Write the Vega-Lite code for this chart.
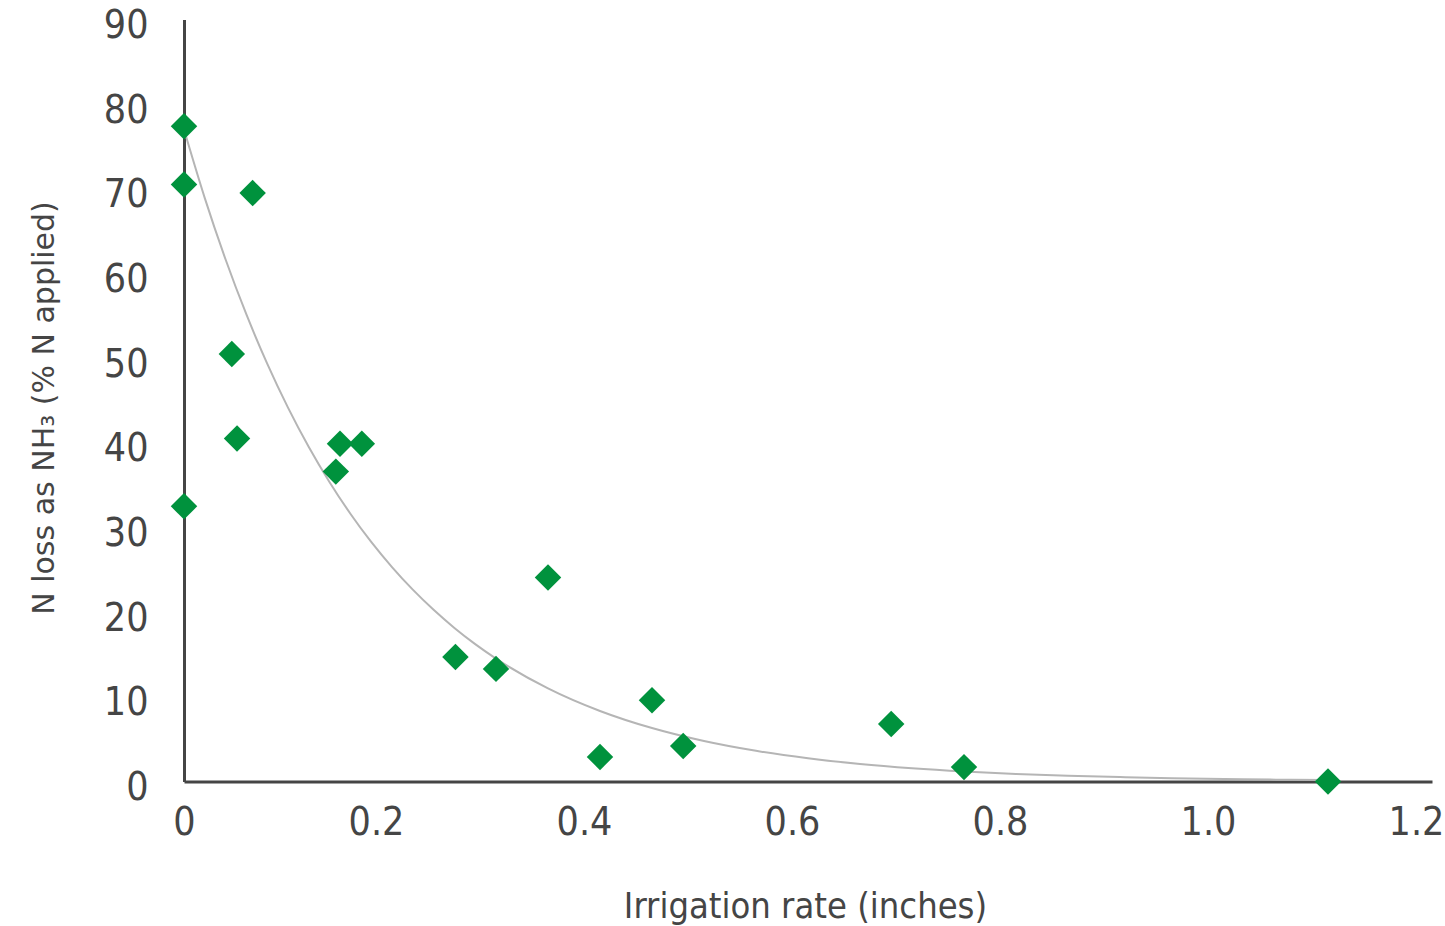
{
  "$schema": "https://vega.github.io/schema/vega-lite/v6.json",
  "autosize": {"type": "none"},
  "padding": {"left": 184, "top": 19.5, "right": 13, "bottom": 144.5},
  "width": 1248,
  "height": 762,
  "background": "white",
  "config": {
    "view": {"stroke": null},
    "axis": {
      "grid": false,
      "ticks": false,
      "tickSize": 0,
      "domainColor": "#454545",
      "domainWidth": 3,
      "labelColor": "#454545",
      "labelFont": "DejaVu Sans Condensed, Roboto, sans-serif",
      "labelFontSize": 39,
      "titleColor": "#454545",
      "titleFontWeight": "normal"
    }
  },
  "datasets": {
    "points": [
      {"irrigation": 0, "nloss": 77.4},
      {"irrigation": 0, "nloss": 70.5},
      {"irrigation": 0.066, "nloss": 69.5},
      {"irrigation": 0.046, "nloss": 50.5},
      {"irrigation": 0.051, "nloss": 40.5},
      {"irrigation": 0, "nloss": 32.5},
      {"irrigation": 0.15, "nloss": 39.9},
      {"irrigation": 0.171, "nloss": 39.9},
      {"irrigation": 0.146, "nloss": 36.6},
      {"irrigation": 0.35, "nloss": 24.1},
      {"irrigation": 0.261, "nloss": 14.7},
      {"irrigation": 0.3, "nloss": 13.3},
      {"irrigation": 0.45, "nloss": 9.6},
      {"irrigation": 0.4, "nloss": 2.9},
      {"irrigation": 0.48, "nloss": 4.2},
      {"irrigation": 0.68, "nloss": 6.8},
      {"irrigation": 0.75, "nloss": 1.7},
      {"irrigation": 1.1, "nloss": 0.0}
    ],
    "trend": [
      {"irrigation": 0, "nloss": 77.0},
      {"irrigation": 0.02, "nloss": 68.9},
      {"irrigation": 0.04, "nloss": 61.65},
      {"irrigation": 0.06, "nloss": 55.16},
      {"irrigation": 0.08, "nloss": 49.36},
      {"irrigation": 0.1, "nloss": 44.16},
      {"irrigation": 0.12, "nloss": 39.51},
      {"irrigation": 0.14, "nloss": 35.35},
      {"irrigation": 0.16, "nloss": 31.63},
      {"irrigation": 0.18, "nloss": 28.3},
      {"irrigation": 0.2, "nloss": 25.33},
      {"irrigation": 0.22, "nloss": 22.66},
      {"irrigation": 0.24, "nloss": 20.28},
      {"irrigation": 0.26, "nloss": 18.14},
      {"irrigation": 0.28, "nloss": 16.23},
      {"irrigation": 0.3, "nloss": 14.52},
      {"irrigation": 0.35, "nloss": 11.0},
      {"irrigation": 0.4, "nloss": 8.33},
      {"irrigation": 0.45, "nloss": 6.31},
      {"irrigation": 0.5, "nloss": 4.78},
      {"irrigation": 0.55, "nloss": 3.62},
      {"irrigation": 0.6, "nloss": 2.74},
      {"irrigation": 0.65, "nloss": 2.07},
      {"irrigation": 0.7, "nloss": 1.57},
      {"irrigation": 0.75, "nloss": 1.19},
      {"irrigation": 0.8, "nloss": 0.9},
      {"irrigation": 0.85, "nloss": 0.68},
      {"irrigation": 0.9, "nloss": 0.52},
      {"irrigation": 0.95, "nloss": 0.39},
      {"irrigation": 1.0, "nloss": 0.3},
      {"irrigation": 1.05, "nloss": 0.22},
      {"irrigation": 1.1, "nloss": 0.17}
    ]
  },
  "encoding": {
    "x": {
      "field": "irrigation",
      "type": "quantitative",
      "scale": {"domain": [0, 1.2], "nice": false, "zero": true},
      "axis": {
        "title": "Irrigation rate (inches)",
        "values": [0, 0.2, 0.4, 0.6, 0.8, 1.0, 1.2],
        "labelExpr": "datum.value === 0 ? '0' : format(datum.value, '.1f')",
        "labelFlush": false,
        "labelPadding": 22,
        "labelOffset": {"condition": {"test": "datum.value === 0", "value": 0}, "value": -16},
        "titleFont": "DejaVu Sans Condensed, Roboto, sans-serif",
        "titleFontSize": 36,
        "titleBaseline": "alphabetic",
        "titleY": 135.5,
        "titleX": 621,
        "titleAlign": "center"
      }
    },
    "y": {
      "field": "nloss",
      "type": "quantitative",
      "scale": {"domain": [0, 90], "nice": false},
      "axis": {
        "title": "N loss as NH₃ (% N applied)",
        "values": [0, 10, 20, 30, 40, 50, 60, 70, 80, 90],
        "labelPadding": 36,
        "labelOffset": 6,
        "titleFont": "DejaVu Sans",
        "titleFontSize": 30,
        "titleAngle": -90,
        "titleBaseline": "alphabetic",
        "titleAlign": "center",
        "titleX": -131,
        "titleY": 388
      }
    }
  },
  "layer": [
    {
      "data": {"name": "trend"},
      "mark": {"type": "line", "color": "#b5b5b5", "strokeWidth": 2, "interpolate": "monotone"}
    },
    {
      "data": {"name": "points"},
      "mark": {"type": "point", "shape": "diamond", "filled": true, "size": 700, "color": "#00923d", "opacity": 1}
    }
  ]
}
